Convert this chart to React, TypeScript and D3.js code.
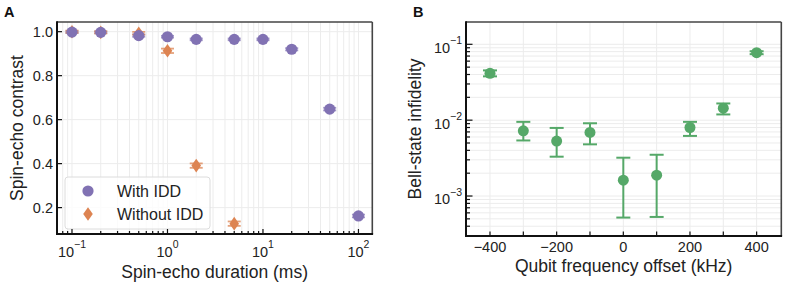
import * as d3 from 'd3'

// panel A: spin-echo contrast vs duration
const durations = [0.1, 0.2, 0.5, 1, 2, 5, 10, 20, 50, 100]
const withIdd = [0.998, 0.997, 0.982, 0.977, 0.965, 0.965, 0.965, 0.92, 0.648, 0.162]
const withIddErr = [0.004, 0.004, 0.005, 0.004, 0.004, 0.004, 0.004, 0.005, 0.006, 0.006]
const durationsNoIdd = [0.1, 0.2, 0.5, 1, 2, 5]
const withoutIdd = [1.0, 0.997, 0.993, 0.913, 0.391, 0.127]
const withoutIddErr = [0.005, 0.005, 0.006, 0.01, 0.01, 0.01]

// panel B: Bell-state infidelity vs frequency offset
const offsets = [-400, -300, -200, -100, 0, 100, 200, 300, 400]
const infidelity = [0.0414, 0.00723, 0.0053, 0.0069, 0.00162, 0.00188, 0.008, 0.0144, 0.0775]
const infidLow = [0.0378, 0.0054, 0.0033, 0.0048, 0.00052, 0.00053, 0.0062, 0.0119, 0.0742]
const infidHigh = [0.0453, 0.0095, 0.0079, 0.0091, 0.0032, 0.0035, 0.0095, 0.0166, 0.081]

const purple = '#8172B3'
const orange = '#DD8452'
const green = '#55A868'
const grid = '#ececec'
const font = 'Liberation Sans, Arial, sans-serif'

const sup = (e: number) => (e < 0 ? '\u2212' + Math.abs(e) : String(e))

function logMinors(lo: number, hi: number) {
  const out: number[] = []
  for (let e = Math.floor(Math.log10(lo)); e <= Math.ceil(Math.log10(hi)); e++) {
    for (let m = 1; m < 10; m++) {
      const v = m * 10 ** e
      if (v >= lo && v <= hi) out.push(v)
    }
  }
  return out
}

function PanelA() {
  const x = d3.scaleLog().domain([10 ** -1.157, 10 ** 2.145]).range([57, 372.3])
  const y = d3.scaleLinear().domain([0.08, 1.044]).range([234, 22])
  const [x0, x1] = x.range()
  const [y0, y1] = y.range()
  const xMinor = logMinors(x.domain()[0], x.domain()[1])
  const xMajor = [0.1, 1, 10, 100]
  const yMajor = [0.2, 0.4, 0.6, 0.8, 1.0]
  const diamond = (cx: number, cy: number) =>
    `M${cx},${cy - 6.8}L${cx + 4.8},${cy}L${cx},${cy + 6.8}L${cx - 4.8},${cy}Z`
  return (
    <g fontFamily={font}>
      {xMinor.map((v, i) => (
        <line key={'gx' + i} x1={x(v)} x2={x(v)} y1={y1} y2={y0} stroke={grid} strokeWidth={1} />
      ))}
      {yMajor.map((v, i) => (
        <line key={'gy' + i} x1={x0} x2={x1} y1={y(v)} y2={y(v)} stroke={grid} strokeWidth={1} />
      ))}
      {/* with IDD */}
      {durations.map((d, i) => (
        <g key={'w' + i} stroke={purple} strokeWidth={1.8} opacity={0.75}>
          <line x1={x(d)} x2={x(d)} y1={y(withIdd[i] - withIddErr[i])} y2={y(withIdd[i] + withIddErr[i])} />
          <line x1={x(d) - 6.5} x2={x(d) + 6.5} y1={y(withIdd[i] - withIddErr[i])} y2={y(withIdd[i] - withIddErr[i])} />
          <line x1={x(d) - 6.5} x2={x(d) + 6.5} y1={y(withIdd[i] + withIddErr[i])} y2={y(withIdd[i] + withIddErr[i])} />
        </g>
      ))}
      {/* without IDD */}
      {durationsNoIdd.map((d, i) => (
        <g key={'wo' + i}>
          <g stroke={orange} strokeWidth={1.8} opacity={0.75}>
            <line x1={x(d) - 6.5} x2={x(d) + 6.5} y1={y(withoutIdd[i] - withoutIddErr[i])} y2={y(withoutIdd[i] - withoutIddErr[i])} />
            <line x1={x(d) - 6.5} x2={x(d) + 6.5} y1={y(withoutIdd[i] + withoutIddErr[i])} y2={y(withoutIdd[i] + withoutIddErr[i])} />
          </g>
          <path d={diamond(x(d), y(withoutIdd[i]))} fill={orange} />
        </g>
      ))}
      {durations.map((d, i) => (
        <circle key={'wc' + i} cx={x(d)} cy={y(withIdd[i])} r={5.6} fill={purple} />
      ))}
      {/* legend */}
      <rect x={65} y={177} width={145} height={52} rx={3} fill="#fff" fillOpacity={0.8} stroke="#dcdcdc" />
      <circle cx={88} cy={191} r={5.6} fill={purple} />
      <path d={diamond(88, 214)} fill={orange} />
      <text x={117} y={196.7} fontSize={16} fill="#222">With IDD</text>
      <text x={117} y={219.8} fontSize={16} fill="#222">Without IDD</text>
      {/* ticks */}
      {xMinor.map((v, i) => {
        const major = xMajor.includes(v)
        return <line key={'tx' + i} x1={x(v)} x2={x(v)} y1={y0} y2={y0 - (major ? 5 : 3)} stroke="#111" strokeWidth={1.2} />
      })}
      {yMajor.map((v, i) => (
        <line key={'ty' + i} x1={x0} x2={x0 + 5} y1={y(v)} y2={y(v)} stroke="#111" strokeWidth={1.2} />
      ))}
      {/* spines */}
      <line x1={x0} x2={x1} y1={y1} y2={y1} stroke="#444" strokeWidth={1.6} />
      <line x1={x1} x2={x1} y1={y1} y2={y0} stroke="#444" strokeWidth={1.6} />
      <line x1={x0} x2={x0} y1={y1 - 0.8} y2={y0 + 1} stroke="#111" strokeWidth={2} />
      <line x1={x0 - 1} x2={x1 + 0.8} y1={y0} y2={y0} stroke="#111" strokeWidth={2} />
      {/* tick labels */}
      {xMajor.map((v, i) => (
        <text key={'lx' + i} x={x(v)} y={256.7} textAnchor="middle" fontSize={14.5} fill="#222">
          10<tspan dy={-8.5} fontSize={10.5}>{sup(Math.round(Math.log10(v)))}</tspan>
        </text>
      ))}
      {yMajor.map((v, i) => (
        <text key={'ly' + i} x={53} y={y(v) + 5.2} textAnchor="end" fontSize={14.5} fill="#222">
          {d3.format('.1f')(v)}
        </text>
      ))}
      <text x={(x0 + x1) / 2} y={278} textAnchor="middle" fontSize={17.5} fill="#222">Spin-echo duration (ms)</text>
      <text transform={`translate(22.5,${(y0 + y1) / 2}) rotate(-90)`} textAnchor="middle" fontSize={17.5} fill="#222">
        Spin-echo contrast
      </text>
      <text x={4} y={17} fontSize={14.5} fontWeight="bold" fill="#111">A</text>
    </g>
  )
}

function PanelB() {
  const x = d3.scaleLinear().domain([-472, 474]).range([466, 781.3])
  const y = d3.scaleLog().domain([10 ** -3.527, 10 ** -0.706]).range([236, 22])
  const [x0, x1] = x.range()
  const [y0, y1] = y.range()
  const xTicks = d3.range(-400, 401, 100)
  const xLabels = d3.range(-400, 401, 200)
  const yMinor = logMinors(y.domain()[0], y.domain()[1])
  const yMajor = [1e-3, 1e-2, 1e-1]
  const isMajor = (v: number) => yMajor.some(m => Math.abs(m - v) / m < 1e-6)
  return (
    <g fontFamily={font}>
      {xTicks.map((v, i) => (
        <line key={'gx' + i} x1={x(v)} x2={x(v)} y1={y1} y2={y0} stroke={grid} strokeWidth={1} />
      ))}
      {yMinor.map((v, i) => (
        <line key={'gy' + i} x1={x0} x2={x1} y1={y(v)} y2={y(v)} stroke={grid} strokeWidth={1} />
      ))}
      {offsets.map((o, i) => (
        <g key={'p' + i}>
          <g stroke={green} strokeWidth={2}>
            <line x1={x(o)} x2={x(o)} y1={y(infidLow[i])} y2={y(infidHigh[i])} />
            <line x1={x(o) - 7} x2={x(o) + 7} y1={y(infidLow[i])} y2={y(infidLow[i])} />
            <line x1={x(o) - 7} x2={x(o) + 7} y1={y(infidHigh[i])} y2={y(infidHigh[i])} />
          </g>
          <circle cx={x(o)} cy={y(infidelity[i])} r={5.5} fill={green} />
        </g>
      ))}
      {/* ticks */}
      {xTicks.map((v, i) => (
        <line key={'tx' + i} x1={x(v)} x2={x(v)} y1={y0} y2={y0 - 4.5} stroke="#111" strokeWidth={1.2} />
      ))}
      {yMinor.map((v, i) => (
        <line key={'ty' + i} x1={x0} x2={x0 + (isMajor(v) ? 6.5 : 4)} y1={y(v)} y2={y(v)} stroke="#111" strokeWidth={1.2} />
      ))}
      {/* spines */}
      <line x1={x0} x2={x1} y1={y1} y2={y1} stroke="#444" strokeWidth={1.6} />
      <line x1={x1} x2={x1} y1={y1} y2={y0} stroke="#444" strokeWidth={1.6} />
      <line x1={x0} x2={x0} y1={y1 - 0.8} y2={y0 + 1} stroke="#111" strokeWidth={2} />
      <line x1={x0 - 1} x2={x1 + 0.8} y1={y0} y2={y0} stroke="#111" strokeWidth={2} />
      {/* tick labels */}
      {xLabels.map((v, i) => (
        <text key={'lx' + i} x={x(v)} y={251.7} textAnchor="middle" fontSize={14.5} fill="#222">
          {v < 0 ? '\u2212' + Math.abs(v) : String(v)}
        </text>
      ))}
      {yMajor.map((v, i) => (
        <text key={'ly' + i} x={462} y={y(v) + 8.4} textAnchor="end" fontSize={14.5} fill="#222">
          10<tspan dy={-8.5} fontSize={10.5}>{sup(Math.round(Math.log10(v)))}</tspan>
        </text>
      ))}
      <text x={(x0 + x1) / 2} y={272} textAnchor="middle" fontSize={17.5} fill="#222">Qubit frequency offset (kHz)</text>
      <text transform={`translate(421,${(y0 + y1) / 2}) rotate(-90)`} textAnchor="middle" fontSize={17.5} fill="#222">
        Bell-state infidelity
      </text>
      <text x={413} y={17} fontSize={14.5} fontWeight="bold" fill="#111">B</text>
    </g>
  )
}

export default function App() {
  return (
    <svg width={785} height={284} style={{ position: 'absolute', left: 0, top: 0, background: '#fff' }}>
      <PanelA />
      <PanelB />
    </svg>
  )
}
